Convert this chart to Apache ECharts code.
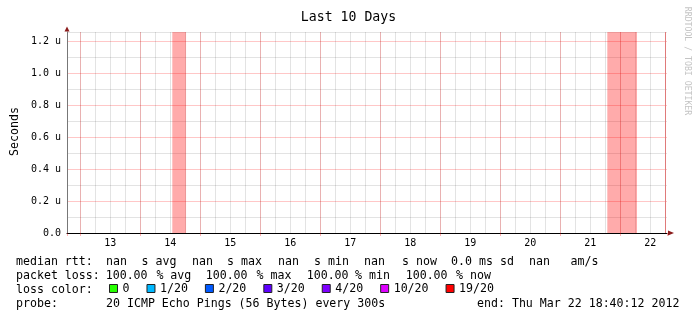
<!DOCTYPE html>
<html><head><meta charset="utf-8">
<script src="https://cdn.jsdelivr.net/npm/echarts@6/dist/echarts.min.js"></script>
<style>html,body{margin:0;padding:0;background:#fff}#c{width:697px;height:321px}</style>
</head><body><div id="c"></div>
<script>
// ---- data (x values are day-of-month in March 2012, fractional) ----
const chartTitle = 'Last 10 Days';
const yAxisName = 'Seconds';
const watermark = 'RRDTOOL / TOBI OETIKER';
const viewStart = 12 + (18 + 40 / 60 + 12 / 3600) / 24; // Mar 12 18:40:12
const viewEnd = 22 + (18 + 40 / 60 + 12 / 3600) / 24;   // Mar 22 18:40:12
const dayLabels = ['13', '14', '15', '16', '17', '18', '19', '20', '21', '22'];
const yTickValues = [0, 0.2, 0.4, 0.6, 0.8, 1.0, 1.2];
const yTickLabels = ['0.0', '0.2 u', '0.4 u', '0.6 u', '0.8 u', '1.0 u', '1.2 u'];
const lossStart = [14.533, 21.783];
const lossEnd = [14.762, 22.278];
const ruleTimes = [22.75];
const medianRtt = []; // every median value is NaN
const lossNames = ['0', '1/20', '2/20', '3/20', '4/20', '10/20', '19/20'];
const lossColors = ['#26ff00', '#00b8ff', '#0059ff', '#5e00ff', '#7e00ff', '#dd00ff', '#ff0000'];
const rttTokens = ['median rtt:', 'nan', 's avg', 'nan', 's max', 'nan', 's min', 'nan', 's now', '0.0 ms', 'sd', 'nan', 'am/s'];
const lossTokens = ['packet loss:', '100.00', '% avg', '100.00', '% max', '100.00', '% min', '100.00', '% now'];
const colorTokens = ['loss color:'];
const probeTokens = ['probe:', '20 ICMP Echo Pings (56 Bytes) every 300s', 'end: Thu Mar 22 18:40:12 2012'];

// ---- layout ----
const rowX = [
  [16, 106, 141.5, 192, 227, 278, 314, 364, 402, 451, 500, 529, 570.5],
  [16, 105.7, 156.4, 205.7, 256.5, 306.7, 355, 405.7, 456],
  [16],
  [16, 106, 477]
];
const rowY = [261.5, 275.5, 289.5, 303.5];
const MONO = '"DejaVu Sans Mono", monospace';

const graphics = [];
[rttTokens, lossTokens, colorTokens, probeTokens].forEach((tokens, r) => {
  tokens.forEach((t, i) => {
    graphics.push({
      type: 'text', x: rowX[r][i], y: rowY[r], silent: true,
      style: { text: t, font: '11.6px ' + MONO, fill: '#000', align: 'left', verticalAlign: 'middle' }
    });
  });
});
graphics.push({
  type: 'text', x: 15, y: 131.5, rotation: Math.PI / 2, silent: true,
  style: { text: yAxisName, font: '11.6px ' + MONO, fill: '#000', align: 'center', verticalAlign: 'middle' }
});
graphics.push({
  type: 'text', x: 687, y: 61, rotation: -Math.PI / 2, silent: true,
  style: { text: watermark, font: '8.2px ' + MONO, fill: '#c4c4c4', align: 'center', verticalAlign: 'middle' }
});
graphics.push({ type: 'polygon', silent: true, z: 10, shape: { points: [[64.5, 31.5], [69.5, 31.5], [67, 26.5]] }, style: { fill: '#8b1c1c' } });
graphics.push({ type: 'polygon', silent: true, z: 10, shape: { points: [[668, 230.5], [668, 235.5], [674, 233]] }, style: { fill: '#8b1c1c' } });

const chart = echarts.init(document.getElementById('c'));
const yMax = 1.25625;
const majorColor = 'rgba(255,0,0,0.22)';
const minorColor = 'rgba(0,0,0,0.11)';
chart.setOption({
  animation: false,
  backgroundColor: '#fff',
  title: {
    text: chartTitle, left: 'center', top: 10, padding: 0,
    textStyle: { fontFamily: MONO, fontSize: 13.2, fontWeight: 'normal', color: '#000', lineHeight: 16 }
  },
  legend: {
    data: lossNames, left: 109, top: 282.5, padding: 0, icon: 'rect',
    itemWidth: 8, itemHeight: 8, itemGap: 17, selectedMode: false,
    itemStyle: { borderColor: '#222', borderWidth: 1 },
    textStyle: { fontFamily: MONO, fontSize: 11.6, color: '#000' }
  },
  grid: { left: 67, right: 30, top: 32, bottom: 88, containLabel: false },
  xAxis: [
    { // minor grid (6 h) - data axis
      type: 'value', position: 'bottom', offset: 0, min: viewStart, max: viewEnd, splitNumber: 40, minInterval: 0.25, maxInterval: 0.25,
      axisLine: { show: true, onZero: false, lineStyle: { color: '#000', width: 1 } },
      axisTick: { show: false }, axisLabel: { show: false },
      splitLine: { show: true, showMinLine: false, showMaxLine: false, lineStyle: { color: minorColor, width: 1 } }
    },
    { // major grid (midnight)
      type: 'value', position: 'bottom', offset: 0, min: viewStart, max: viewEnd, splitNumber: 10, minInterval: 1, maxInterval: 1,
      axisLine: { show: false, onZero: false },
      axisTick: { show: true, length: 3, lineStyle: { color: 'rgba(255,0,0,0.3)' } },
      axisLabel: { show: false },
      splitLine: { show: true, showMinLine: false, showMaxLine: false, lineStyle: { color: majorColor, width: 1 } }
    },
    { // day labels at noon
      type: 'value', position: 'bottom', offset: 0, min: viewStart - 0.5, max: viewEnd - 0.5, splitNumber: 10, minInterval: 1, maxInterval: 1,
      axisLine: { show: false, onZero: false }, axisTick: { show: false }, splitLine: { show: false },
      axisLabel: {
        show: true, margin: 5, color: '#000', fontFamily: MONO, fontSize: 10,
        formatter: v => { const s = String(Math.round(v)); return (Math.abs(v - Math.round(v)) < 1e-6 && dayLabels.includes(s)) ? s : ''; }
      }
    }
  ],
  yAxis: {
    type: 'value', min: 0, max: yMax, splitNumber: 13, minInterval: 0.1, maxInterval: 0.1,
    axisLine: { show: true, lineStyle: { color: '#777', width: 1 } },
    axisTick: { show: false },
    axisLabel: {
      show: true, margin: 6, color: '#000', fontFamily: MONO, fontSize: 10,
      formatter: v => { const i = yTickValues.findIndex(t => Math.abs(t - v) < 1e-6); return i >= 0 ? yTickLabels[i] : ''; }
    },
    splitLine: {
      show: true, showMinLine: true, showMaxLine: true,
      lineStyle: { color: [majorColor, minorColor], width: 1 }
    }
  },
  series: lossNames.map((n, i) => ({
    type: 'line', name: n, data: medianRtt, color: lossColors[i], symbol: 'none', xAxisIndex: 0
  })).concat([{
    type: 'line', name: 'loss', data: [], xAxisIndex: 0, symbol: 'none',
    markArea: {
      silent: true, itemStyle: { color: 'rgba(255,0,0,0.33)' },
      data: lossStart.map((s, i) => [{ xAxis: s }, { xAxis: lossEnd[i] }])
    },
    markLine: {
      silent: true, symbol: 'none', label: { show: false },
      lineStyle: { color: '#e07a7a', type: 'solid', width: 1 },
      data: ruleTimes.map(t => ({ xAxis: t }))
    }
  }]),
  graphic: graphics
});
</script>
</body></html>
